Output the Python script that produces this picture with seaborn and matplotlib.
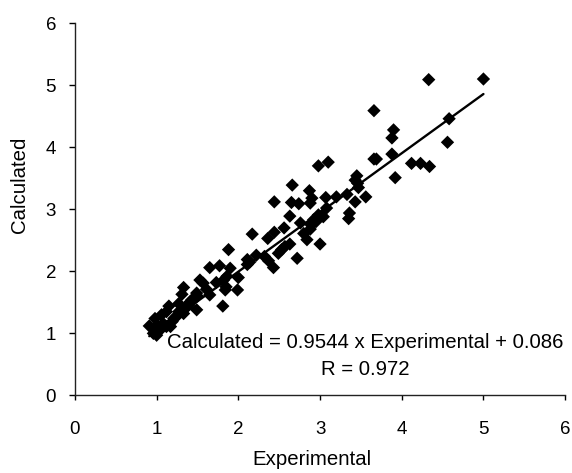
import numpy as np
import pandas as pd
import seaborn as sns
import matplotlib
matplotlib.use('Agg')
from matplotlib import pyplot as plt

# Valores.
experimental = [4.33, 5.00, 3.66, 4.58, 3.90, 3.88, 4.56, 3.88, 3.66, 3.69,
                4.12, 4.23, 4.34, 3.92, 2.98, 3.10, 2.66, 2.87, 3.45, 3.43,
                3.46, 3.33, 3.56, 3.43, 3.20, 3.07, 3.08, 2.90, 2.88, 2.44,
                2.65, 2.74, 3.36, 3.35, 2.98, 3.04, 2.92, 2.63, 2.76, 2.56,
                2.88, 2.44, 2.36, 2.17, 2.84, 2.63, 2.53, 2.49, 3.00, 1.88,
                2.22, 2.11, 2.32, 2.37, 2.72, 2.43, 2.11, 1.90, 1.65, 1.77,
                2.00, 1.86, 1.82, 1.73, 1.57, 1.99, 1.84, 1.65, 1.61, 1.81,
                1.33, 1.31, 1.49, 1.46, 1.41, 1.37, 1.49, 1.33, 1.34, 1.27,
                1.15, 1.12, 1.21, 1.19, 1.06, 0.98, 0.91, 1.00, 1.08, 1.17,
                0.96, 1.00, 1.04, 1.12, 1.27, 1.53, 1.43, 2.80, 2.89,
                2.95, 3.47, 1.50, 1.39, 1.02, 2.57, 3.02, 1.85, 2.14, 1.25]
calculated = [5.09, 5.10, 4.59, 4.46, 4.28, 4.15, 4.08, 3.89, 3.81, 3.81,
              3.74, 3.74, 3.69, 3.51, 3.70, 3.76, 3.39, 3.30, 3.54, 3.47,
              3.42, 3.24, 3.20, 3.12, 3.20, 3.19, 3.02, 3.18, 3.10, 3.12,
              3.11, 3.09, 2.94, 2.85, 2.91, 2.88, 2.83, 2.89, 2.78, 2.70,
              2.68, 2.63, 2.53, 2.60, 2.51, 2.44, 2.35, 2.29, 2.44, 2.35,
              2.26, 2.19, 2.24, 2.17, 2.21, 2.06, 2.11, 2.05, 2.06, 2.09,
              1.90, 1.92, 1.86, 1.82, 1.81, 1.70, 1.70, 1.62, 1.71, 1.44,
              1.74, 1.63, 1.65, 1.56, 1.51, 1.43, 1.38, 1.32, 1.40, 1.35,
              1.44, 1.35, 1.24, 1.19, 1.30, 1.24, 1.12, 1.13, 1.16, 1.11,
              1.00, 0.97, 1.05, 1.11, 1.48, 1.86, 1.54, 2.61, 2.75,
              2.80, 3.35, 1.60, 1.45, 1.08, 2.40, 2.90, 1.75, 2.15, 1.28]

# Coeficientes de la recta de ajuste.
pendiente = 0.9544
intercepto = 0.086
r_valor = 0.972

ticks = [0, 1, 2, 3, 4, 5, 6]

sns.set_theme(style='ticks')
plt.rcParams['font.family'] = ['Liberation Sans', 'DejaVu Sans']

datos = pd.DataFrame({'Experimental': experimental, 'Calculated': calculated})

fig = plt.figure(figsize=(5.72, 4.73), dpi=100)
ax = fig.add_axes([0.131, 0.164, 0.857, 0.787])

sns.scatterplot(data=datos, x='Experimental', y='Calculated', ax=ax,
                marker='D', s=46, color='black', edgecolor='none',
                linewidth=0)

# Recta de ajuste.
x_linea = np.array([min(experimental), max(experimental)])
y_linea = pendiente * x_linea + intercepto
sns.lineplot(x=x_linea, y=y_linea, ax=ax, color='black', linewidth=1.7)

ax.set_xlim(0, 6)
ax.set_ylim(0, 6)
ax.set_xticks(ticks)
ax.set_yticks(ticks)
ax.tick_params(axis='x', length=3.5, width=1, pad=15, labelsize=13.5,
               colors='black', direction='out')
ax.tick_params(axis='y', length=4.5, width=1, pad=9, labelsize=13.5,
               colors='black', direction='out')
ax.set_xlabel('Experimental', fontsize=14.7, color='black')
ax.set_ylabel('Calculated', fontsize=14.7, color='black')
ax.xaxis.set_label_coords(0.484, -0.147)
ax.yaxis.set_label_coords(-0.094, 0.565)

sns.despine(ax=ax)
for lado in ['left', 'bottom']:
    ax.spines[lado].set_color('#222222')
    ax.spines[lado].set_linewidth(1)

ax.text(3.556, 0.77,
        'Calculated = {:.4f} x Experimental + {:.3f}'.format(pendiente, intercepto),
        ha='center', va='baseline', fontsize=14.7, color='black')
ax.text(3.556, 0.334, 'R = {:.3f}'.format(r_valor),
        ha='center', va='baseline', fontsize=14.7, color='black')

fig.savefig('out.png', dpi=100, facecolor='white')
